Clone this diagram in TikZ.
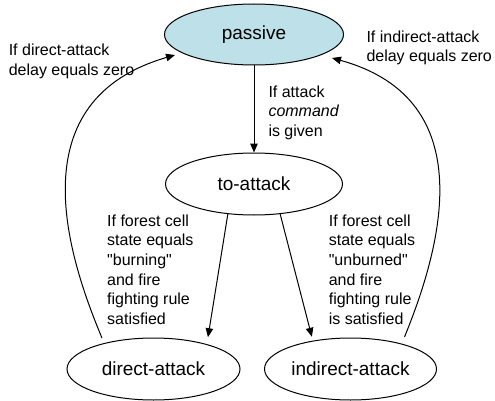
\documentclass[tikz,border=0pt]{standalone}
\usepackage{fontspec}
\setmainfont{Liberation Sans}
\usetikzlibrary{shapes.geometric,arrows.meta,calc}
\definecolor{passiveblue}{RGB}{190,225,233}
\tikzset{
    state/.style={draw,ellipse,line width=1pt,inner sep=0pt,minimum width=175pt,minimum height=62pt,font=\fontsize{19}{22}\selectfont},
    cond/.style={anchor=base west,align=left,inner sep=0pt,font=\fontsize{16}{19.7}\selectfont},
}

\begin{document}
\begin{tikzpicture}[x=1pt,y=1pt,line width=1pt,>={Triangle[length=9pt,width=7.5pt]}]
    \useasboundingbox (0,0) rectangle (495,-401);
    \node[state,fill=passiveblue,minimum width=179pt,minimum height=61pt] (passive) at (254,-34.5) {passive};
    \node[state,minimum width=177pt] (toattack) at (254,-184) {to-attack};
    \node[state,minimum width=173pt] (direct) at (153.5,-369) {direct-attack};
    \node[state,minimum width=172pt] (indirect) at (350.5,-369) {indirect-attack};

    % transitions
    \draw[->] (passive.south) -- (toattack.north);
    \draw[->,shorten >=7pt] (toattack.229) -- (direct.25);
    \draw[->,shorten >=4pt] (toattack.311) -- (indirect.143);
    \draw[->] ($(direct.center)+(-51.5,31)$) .. controls (65,-250) and (20,-100) .. ($(passive.center)+(-79,-20.5)$);
    \draw[->] ($(indirect.center)+(54,32)$) .. controls (440,-250) and (484,-100) .. ($(passive.center)+(78,-23.5)$);

    % conditions (placed at the baseline of their last line)
    \node[cond] (givenlbl) at (268,-136.5) {If attack\\\textit{command}\\is given};
    \node[cond] (dzerolbl) at (8.3,-75.5) {If direct-attack\\delay equals zero};
    \node[cond] (izerolbl) at (366,-62) {If indirect-attack\\delay equals zero};
    \node[cond] (burnlbl) at (106.7,-324.5) {If forest cell\\state equals\\\textquotedbl burning\textquotedbl\\and fire\\fighting rule\\satisfied};
    \node[cond] (unburnlbl) at (328.3,-324.5) {If forest cell\\state equals\\\textquotedbl unburned\textquotedbl\\and fire\\fighting rule\\is satisfied};
\end{tikzpicture}
\end{document}
